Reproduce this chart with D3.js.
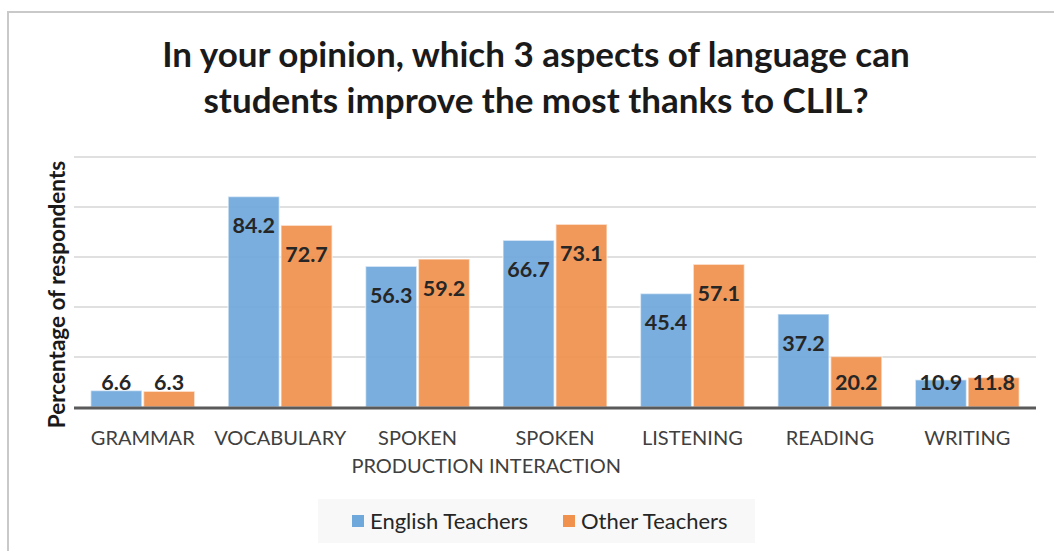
<!DOCTYPE html>
<html>
<head>
<meta charset="utf-8">
<script src="https://cdn.jsdelivr.net/npm/d3@7"></script>
<style>
  html, body { margin: 0; padding: 0; background: #fff; }
  svg { display: block; }
  text { font-family: Lato, "Open Sans", sans-serif; }
</style>
</head>
<body>
<svg id="chart" width="1054" height="551"></svg>
<script>
// Survey results: share of respondents choosing each aspect
const categories = ["GRAMMAR", "VOCABULARY", "SPOKEN\nPRODUCTION", "SPOKEN\nINTERACTION", "LISTENING", "READING", "WRITING"];
const seriesNames = ["English Teachers", "Other Teachers"];
const englishTeachers = [6.6, 84.2, 56.3, 66.7, 45.4, 37.2, 10.9];
const otherTeachers = [6.3, 72.7, 59.2, 73.1, 57.1, 20.2, 11.8];
const gridTicks = [20, 40, 60, 80, 100];
const titleLines = ["In your opinion, which 3 aspects of language can", "students improve the most thanks to CLIL?"];
const yAxisTitle = "Percentage of respondents";

const colors = ["#6fa8db", "#f0914d"];
const seriesValues = [englishTeachers, otherTeachers];

const svg = d3.select("#chart");

// outer chart frame
svg.append("rect")
  .attr("x", 8).attr("y", 12)
  .attr("width", 1100).attr("height", 600)
  .attr("fill", "#fff")
  .attr("stroke", "#c9c9c9").attr("stroke-width", 2);

// title
svg.append("g").selectAll("text")
  .data(titleLines)
  .join("text")
  .attr("x", 536)
  .attr("y", (d, i) => 67 + i * 46)
  .attr("text-anchor", "middle")
  .attr("font-size", 35)
  .attr("font-weight", 700)
  .attr("fill", "#1a1a1a")
  .text(d => d);

const plot = { left: 74, right: 1036, top: 157, bottom: 407 };

const x0 = d3.scaleBand()
  .domain(categories)
  .range([plot.left, plot.right])
  .paddingInner(0.243)
  .paddingOuter(0.1215);

const x1 = d3.scaleBand()
  .domain(seriesNames)
  .range([0, x0.bandwidth()])
  .paddingInner(0.03);

const y = d3.scaleLinear()
  .domain([0, 100])
  .range([plot.bottom, plot.top]);

// horizontal gridlines
svg.append("g").selectAll("line")
  .data(gridTicks)
  .join("line")
  .attr("x1", plot.left).attr("x2", plot.right)
  .attr("y1", d => y(d)).attr("y2", d => y(d))
  .attr("stroke", "#d6d6d6").attr("stroke-width", 1.6);

// bars
const groups = svg.append("g").selectAll("g")
  .data(categories)
  .join("g")
  .attr("transform", d => `translate(${x0(d)},0)`);

const cells = groups.selectAll("g")
  .data((c, ci) => seriesNames.map((s, si) => ({ s, si, v: seriesValues[si][ci] })))
  .join("g");

cells.append("rect")
  .attr("x", d => x1(d.s))
  .attr("width", x1.bandwidth())
  .attr("y", d => y(d.v))
  .attr("height", d => y(0) - y(d.v))
  .attr("fill", d => colors[d.si])
  .attr("fill-opacity", 0.93)
  .attr("stroke", "#fff")
  .attr("stroke-opacity", 0.55)
  .attr("stroke-width", 1.5);

// value labels placed inside the bar end, kept above the axis line
cells.append("text")
  .attr("x", d => x1(d.s) + x1.bandwidth() / 2)
  .attr("y", d => Math.min(y(d.v) + 29, y(0) - 25))
  .attr("dy", "0.35em")
  .attr("text-anchor", "middle")
  .attr("font-size", 21.5)
  .attr("font-weight", 700)
  .attr("fill", "#262626")
  .text(d => d.v.toFixed(1));

// category axis line
svg.append("line")
  .attr("x1", plot.left).attr("x2", plot.right)
  .attr("y1", y(0) + 1).attr("y2", y(0) + 1)
  .attr("stroke", "#5a5a5a").attr("stroke-width", 3);

// category labels
const xAxis = svg.append("g").selectAll("text")
  .data(categories)
  .join("text")
  .attr("x", d => x0(d) + x0.bandwidth() / 2)
  .attr("y", 445)
  .attr("text-anchor", "middle")
  .attr("font-size", 20)
  .attr("fill", "#404040");
xAxis.selectAll("tspan")
  .data(d => d.split("\n"))
  .join("tspan")
  .attr("x", function () { return d3.select(this.parentNode).attr("x"); })
  .attr("dy", (d, i) => i === 0 ? 0 : 28)
  .text(d => d);

// y-axis title
svg.append("text")
  .attr("transform", `translate(65,${(plot.top + 432) / 2}) rotate(-90)`)
  .attr("text-anchor", "middle")
  .attr("font-size", 22.5)
  .attr("font-weight", 700)
  .attr("fill", "#1a1a1a")
  .text(yAxisTitle);

// legend
const legend = svg.append("g");
legend.append("rect")
  .attr("x", 318).attr("y", 499)
  .attr("width", 437).attr("height", 44)
  .attr("fill", "#f8f8f8");
const legendX = [352, 563];
const items = legend.selectAll("g")
  .data(seriesNames)
  .join("g")
  .attr("transform", (d, i) => `translate(${legendX[i]},515)`);
items.append("rect")
  .attr("width", 12).attr("height", 12)
  .attr("fill", (d, i) => colors[i]);
items.append("text")
  .attr("x", 18).attr("y", 6)
  .attr("dy", "0.35em")
  .attr("font-size", 22)
  .attr("fill", "#262626")
  .text(d => d);
</script>
</body>
</html>
